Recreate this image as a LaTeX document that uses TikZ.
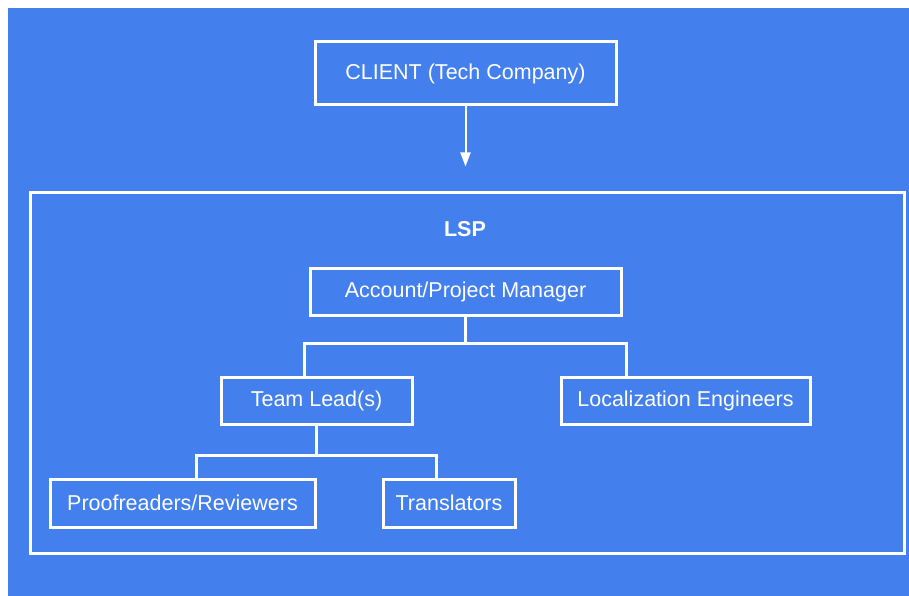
\documentclass[tikz,border=0pt]{standalone}
\usepackage{fontspec}
\setmainfont{Liberation Sans}
\usetikzlibrary{arrows.meta}
\definecolor{lspblue}{RGB}{67,128,237}
\begin{document}
\begin{tikzpicture}[x=1pt,y=-1pt,
    box/.style={draw=white, line width=3pt, text=white, inner sep=0pt,
      font=\fontsize{21.5}{26}\selectfont},
    wire/.style={draw=white, line width=3pt}]
        \useasboundingbox (0,0) rectangle (909,596);

        % background
        \fill[lspblue] (8,8) rectangle (909,596);

        % client
        \node[box, minimum width=301, minimum height=63] (client) at (465.5,73.5) {CLIENT (Tech Company)};

        % lsp frame
        \node[box, minimum width=874, minimum height=361] (lspframe) at (467,372.5) {};
        \node[text=white, font=\fontsize{21.5}{26}\selectfont\bfseries] (lsptitle) at (465,229) {LSP};

        % roles
        \node[box, minimum width=311, minimum height=47] (acct) at (465.5,291.5) {Account/Project Manager};
        \node[box, minimum width=191, minimum height=47] (lead) at (316.5,400.5) {Team Lead(s)};
        \node[box, minimum width=249, minimum height=47] (loceng) at (685.5,400.5) {Localization Engineers};
        \node[box, minimum width=265, minimum height=48] (proof) at (182.5,503) {Proofreaders/Reviewers};
        \node[box, minimum width=132, minimum height=48] (transl) at (449,503) {Translators};

        % client to lsp
        \draw[white, line width=2pt, -{Triangle[width=10pt,length=14pt]}] (client.south) -- ([yshift=24pt]lspframe.north -| client.south);

        % manager branch
        \draw[wire] (acct.south) -- ++(0,27) -| ([xshift=-12.5pt]lead.north);
        \draw[wire] (acct.south) ++(0,27) -| ([xshift=-59.5pt]loceng.north);

        % lead branch
        \draw[wire] (lead.south) -- ++(0,30) -| ([xshift=13.5pt]proof.north);
        \draw[wire] (lead.south) ++(0,30) -| ([xshift=-13pt]transl.north);
    \end{tikzpicture}
\end{document}
